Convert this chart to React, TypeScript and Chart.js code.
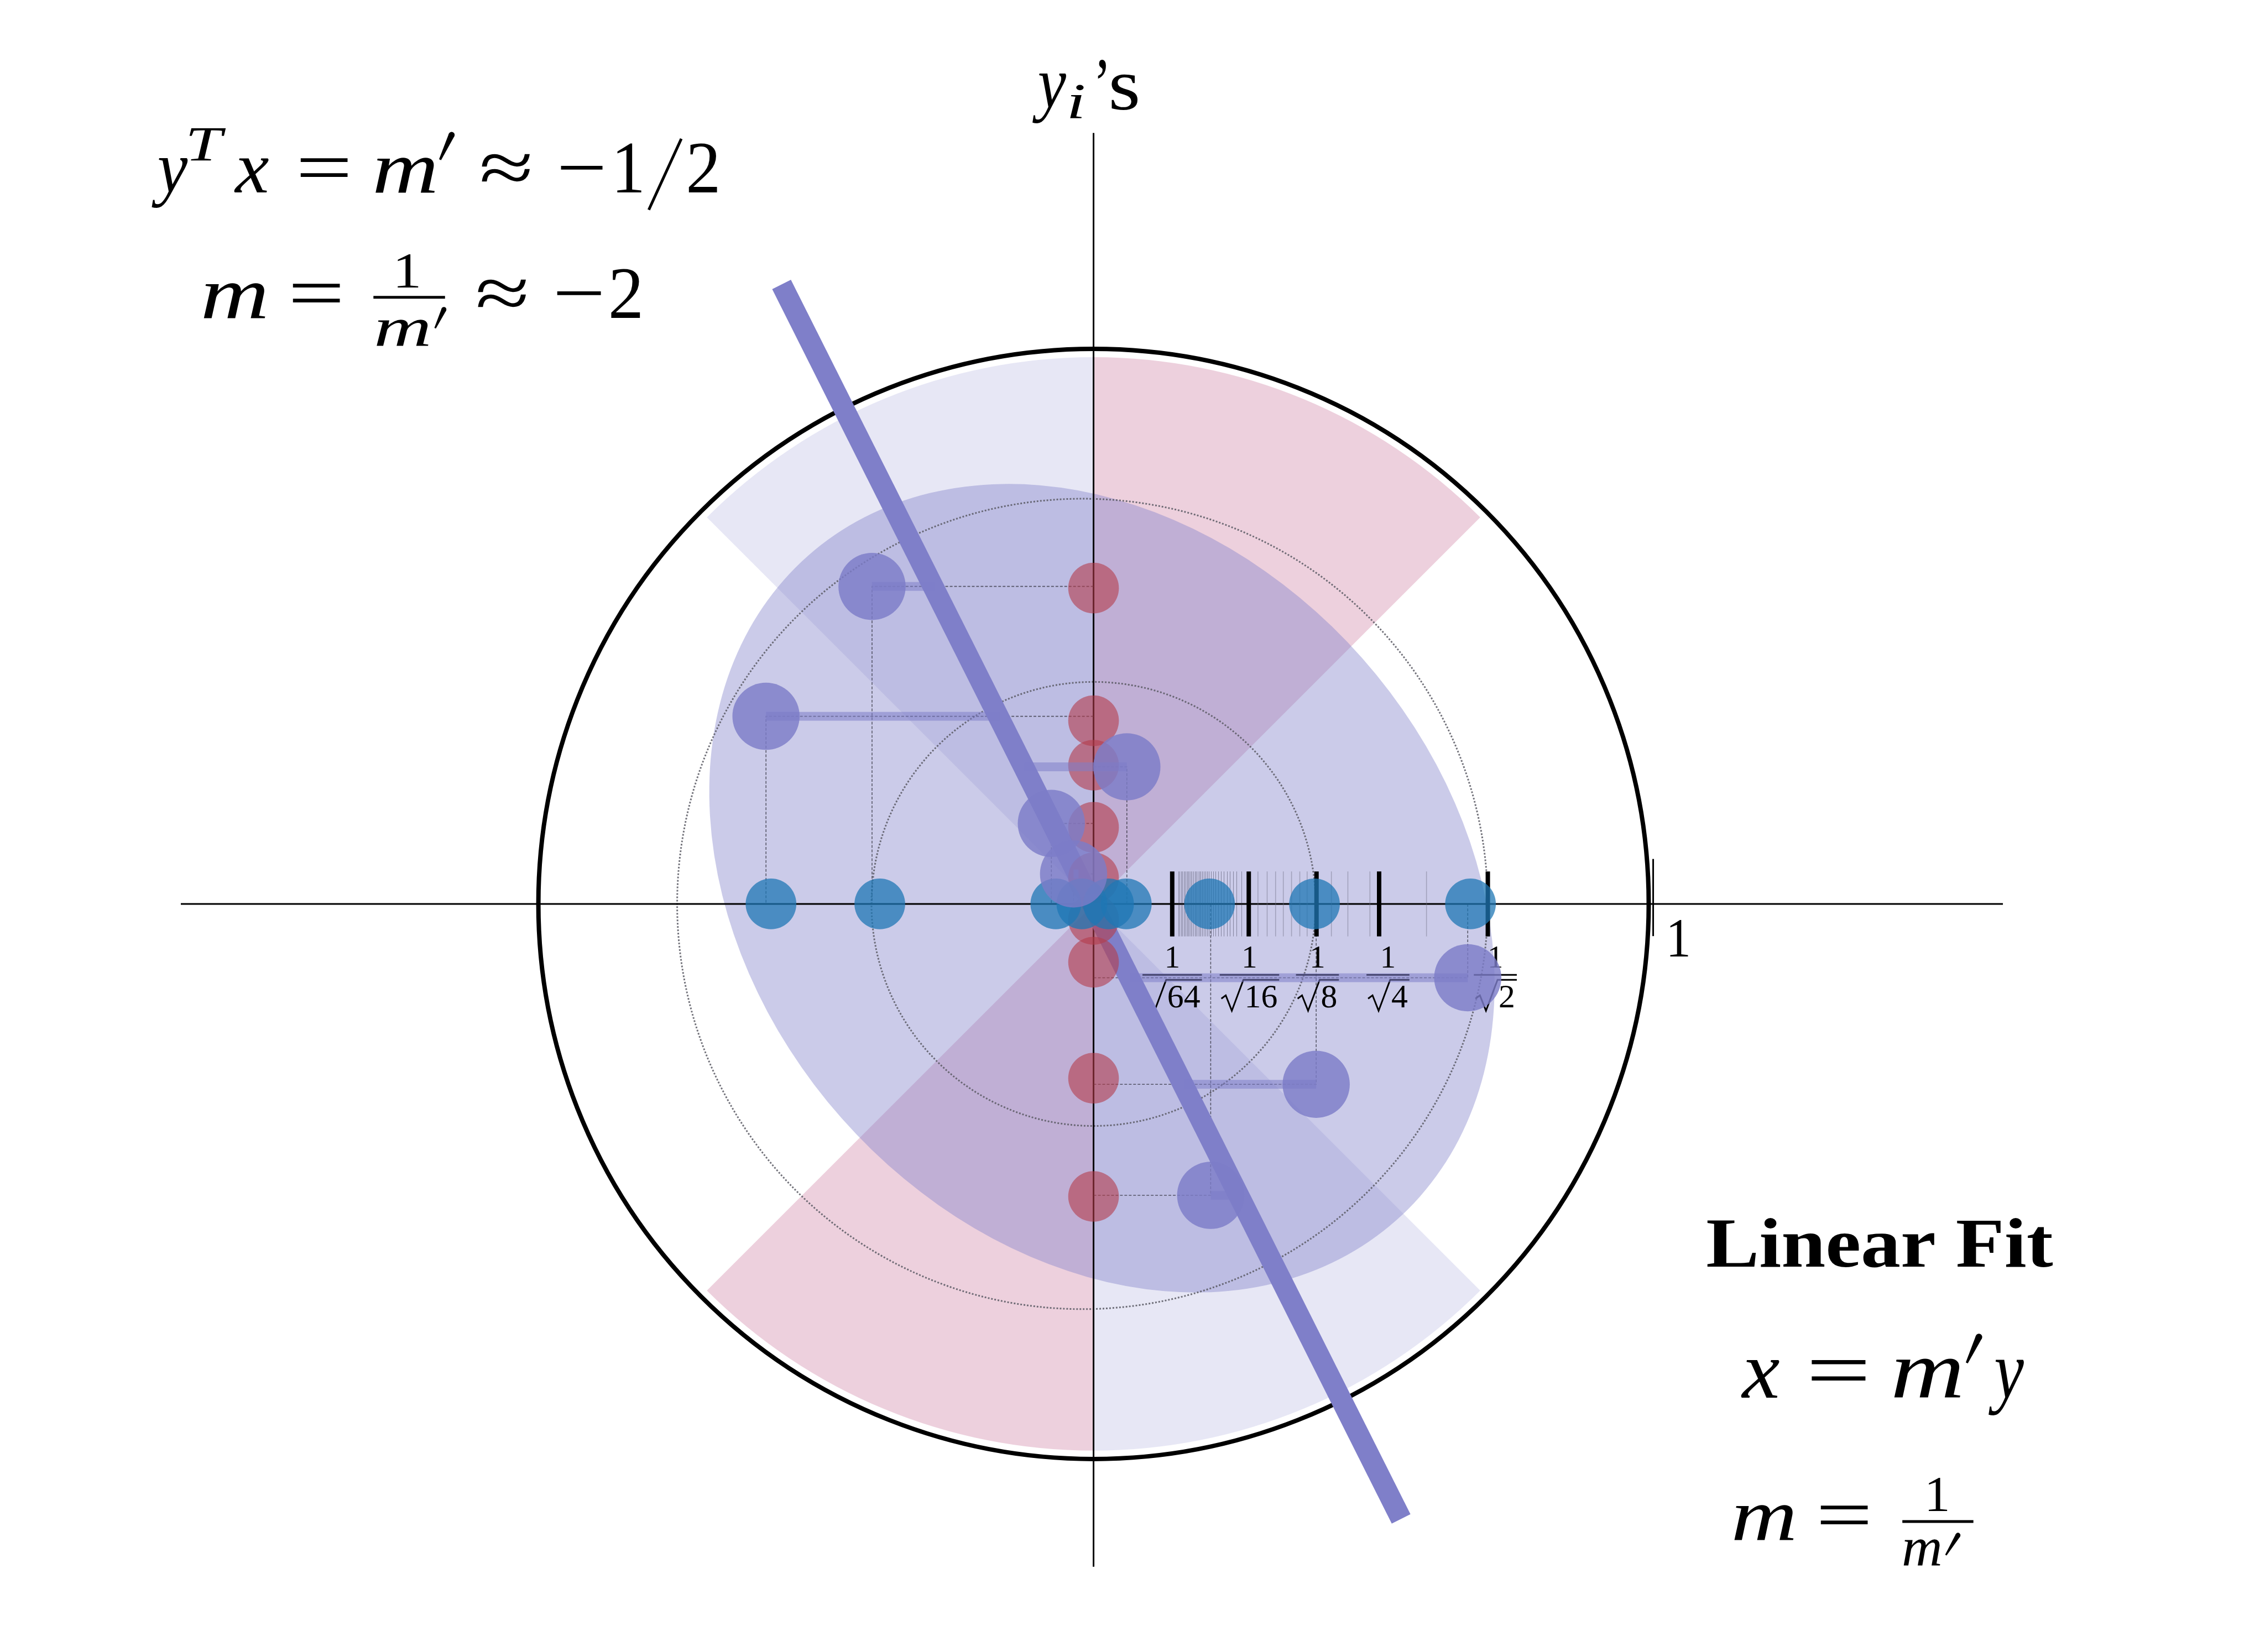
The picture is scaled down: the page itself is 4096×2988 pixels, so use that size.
import React, { useEffect, useRef } from 'react';
import { Chart, registerables } from 'chart.js';

Chart.register(...registerables);

const CANVAS_W = 4096;
const CANVAS_H = 2988;
const S = 0.996;
const ORIGIN_X = 1985.5;
const ORIGIN_Y = 1641.5;
const UNIT = 1008;

// ---------------- data ----------------
const xProjections = [-0.581, -0.385, -0.068, -0.021, 0.027, 0.059, 0.209, 0.398, 0.679];
const yProjections = [0.569, 0.33, 0.25, 0.138, 0.047, -0.028, -0.105, -0.314, -0.527];
const pointX = [-0.399, -0.59, 0.06, -0.076, -0.036, 0.674, 0.401, 0.211];
const pointY = [0.572, 0.338, 0.247, 0.145, 0.054, -0.133, -0.325, -0.525];
const fitLineX = [-0.562, 0.554];
const fitLineY = [1.116, -1.108];
const majorTicks = [0.1417, 0.2796, 0.4016, 0.5144, 0.7102];
const tickLabelPos = [0.1417, 0.2808, 0.4033, 0.5303, 0.7237];
const tickLabelDen = ['64', '16', '8', '4', '2'];
const fineTicks = [0.1526, 0.1553, 0.1579, 0.1602, 0.1625, 0.1649, 0.1675, 0.1698, 0.1721, 0.1748, 0.1771,
  0.1798, 0.1823, 0.185, 0.1877, 0.1903, 0.193, 0.1956, 0.1986, 0.2016, 0.2046, 0.2081, 0.2118, 0.2155,
  0.2194, 0.2244, 0.2294, 0.2349, 0.2403, 0.2458, 0.2515, 0.2571, 0.2664];
const lightTicks = [0.2961, 0.3127, 0.3279, 0.3418, 0.3566, 0.3715, 0.3847, 0.4284, 0.4581, 0.4978, 0.5997];
const unitTick = 1.008;
const circleRadius = 1.0;
const wedgeRadius = 0.985;
const pinkWedges = [[45, 90], [225, 270]];
const lavenderWedges = [[90, 135], [270, 315]];
const ellipseCenter = [0.0151, 0.0283];
const ellipseAxes = [0.7994, 0.6258];
const ellipseAngle = -48.5;
const dottedCircles = [[0, 0, 0.4], [-0.02, 0, 0.73]];
const xAxisRange = [-1.644, 1.638];
const yAxisRange = [-1.194, 1.389];

// ---------------- colours ----------------
const LINE_COLOR = 'rgb(127,127,201)';
const PURPLE = 'rgba(125,125,200,0.82)';
const BAR_COLOR = 'rgba(125,125,200,0.55)';
const BLUE = 'rgba(31,119,180,0.75)';
const RED = 'rgba(180,60,75,0.6)';
const ELLIPSE_COLOR = 'rgba(125,125,200,0.4)';
const LAV_WEDGE = 'rgba(125,125,200,0.19)';
const PINK_WEDGE = 'rgba(190,80,130,0.27)';
const FONT = '"Liberation Serif", "Times New Roman", serif';

const xMin = -(ORIGIN_X * S) / (UNIT * S);
const xMax = (CANVAS_W - ORIGIN_X * S) / (UNIT * S);
const yMax = (ORIGIN_Y * S) / (UNIT * S);
const yMin = -(CANVAS_H - ORIGIN_Y * S) / (UNIT * S);

function fitText(ctx: CanvasRenderingContext2D, s: string, l: number, r: number, base: number, size: number, style = '') {
  ctx.save();
  ctx.font = `${style.includes('i') ? 'italic ' : ''}${style.includes('b') ? 'bold ' : ''}${size * S}px ${FONT}`;
  ctx.textAlign = 'left';
  ctx.textBaseline = 'alphabetic';
  const m = ctx.measureText(s);
  const ink = m.actualBoundingBoxLeft + m.actualBoundingBoxRight;
  const sx = ink > 0 ? ((r - l) * S) / ink : 1;
  ctx.translate(l * S, base * S);
  ctx.scale(sx, 1);
  ctx.fillStyle = '#000';
  ctx.fillText(s, m.actualBoundingBoxLeft, 0);
  ctx.restore();
}

function prime(ctx: CanvasRenderingContext2D, xt: number, yt: number, xb: number, yb: number, wt: number, wb: number) {
  const dx = xb - xt, dy = yb - yt;
  const len = Math.hypot(dx, dy);
  const nx = -dy / len, ny = dx / len;
  ctx.save();
  ctx.beginPath();
  ctx.moveTo((xt + nx * wt / 2) * S, (yt + ny * wt / 2) * S);
  ctx.lineTo((xb + nx * wb / 2) * S, (yb + ny * wb / 2) * S);
  ctx.lineTo((xb - nx * wb / 2) * S, (yb - ny * wb / 2) * S);
  ctx.lineTo((xt - nx * wt / 2) * S, (yt - ny * wt / 2) * S);
  ctx.closePath();
  ctx.fillStyle = '#000';
  ctx.fill();
  ctx.beginPath();
  ctx.arc(xt * S, yt * S, (wt / 2) * S, 0, Math.PI * 2);
  ctx.fill();
  ctx.restore();
}

function hline(ctx: CanvasRenderingContext2D, x0: number, x1: number, y: number, w: number) {
  ctx.save();
  ctx.strokeStyle = '#000';
  ctx.lineWidth = w * S;
  ctx.beginPath();
  ctx.moveTo(x0 * S, y * S);
  ctx.lineTo(x1 * S, y * S);
  ctx.stroke();
  ctx.restore();
}

function seg(ctx: CanvasRenderingContext2D, x0: number, y0: number, x1: number, y1: number, w: number) {
  ctx.save();
  ctx.strokeStyle = '#000';
  ctx.lineWidth = w * S;
  ctx.beginPath();
  ctx.moveTo(x0 * S, y0 * S);
  ctx.lineTo(x1 * S, y1 * S);
  ctx.stroke();
  ctx.restore();
}

const backgroundPlugin = {
  id: 'background',
  beforeDatasetsDraw(chart: any) {
    const { ctx } = chart;
    const xs = chart.scales.x, ys = chart.scales.y;
    const px = (v: number) => xs.getPixelForValue(v);
    const py = (v: number) => ys.getPixelForValue(v);
    const u = px(1) - px(0);
    const ox = px(0), oy = py(0);
    ctx.save();

    const wedge = (a0: number, a1: number, color: string) => {
      ctx.beginPath();
      ctx.moveTo(ox, oy);
      ctx.arc(ox, oy, wedgeRadius * u, (-a1 * Math.PI) / 180, (-a0 * Math.PI) / 180);
      ctx.closePath();
      ctx.fillStyle = color;
      ctx.fill();
    };
    pinkWedges.forEach(([a, b]) => wedge(a, b, PINK_WEDGE));
    lavenderWedges.forEach(([a, b]) => wedge(a, b, LAV_WEDGE));

    // ellipse
    ctx.beginPath();
    ctx.ellipse(px(ellipseCenter[0]), py(ellipseCenter[1]), ellipseAxes[0] * u, ellipseAxes[1] * u,
      (-ellipseAngle * Math.PI) / 180, 0, Math.PI * 2);
    ctx.fillStyle = ELLIPSE_COLOR;
    ctx.fill();

    // dotted circles
    ctx.save();
    ctx.strokeStyle = 'rgba(90,90,100,0.85)';
    ctx.lineWidth = 3 * S;
    ctx.setLineDash([3 * S, 3 * S]);
    dottedCircles.forEach(([cx, cy, r]) => {
      ctx.beginPath();
      ctx.arc(px(cx), py(cy), r * u, 0, Math.PI * 2);
      ctx.stroke();
    });
    ctx.restore();

    // big circle
    ctx.beginPath();
    ctx.arc(ox, oy, circleRadius * u, 0, Math.PI * 2);
    ctx.strokeStyle = '#000';
    ctx.lineWidth = 8 * S;
    ctx.stroke();

    // axes
    ctx.lineWidth = 3 * S;
    ctx.beginPath();
    ctx.moveTo(px(xAxisRange[0]), oy);
    ctx.lineTo(px(xAxisRange[1]), oy);
    ctx.moveTo(ox, py(yAxisRange[1]));
    ctx.lineTo(ox, py(yAxisRange[0]));
    ctx.stroke();

    // dashed projection rectangles
    ctx.save();
    ctx.strokeStyle = 'rgba(40,40,50,0.7)';
    ctx.lineWidth = 1.6 * S;
    ctx.setLineDash([5 * S, 3 * S]);
    pointX.forEach((x, i) => {
      const y = pointY[i];
      ctx.beginPath();
      ctx.moveTo(ox, py(y));
      ctx.lineTo(px(x), py(y));
      ctx.lineTo(px(x), oy);
      ctx.stroke();
    });
    ctx.restore();

    // ticks
    const th = 0.0585 * u;
    ctx.save();
    ctx.strokeStyle = 'rgba(40,40,60,0.55)';
    ctx.lineWidth = 0.8;
    fineTicks.forEach((t) => {
      ctx.beginPath();
      ctx.moveTo(Math.round(px(t)) + 0.5, oy - th);
      ctx.lineTo(Math.round(px(t)) + 0.5, oy + th);
      ctx.stroke();
    });
    ctx.strokeStyle = 'rgba(110,110,130,0.45)';
    ctx.lineWidth = 1.6 * S;
    lightTicks.forEach((t) => {
      ctx.beginPath();
      ctx.moveTo(px(t), oy - th);
      ctx.lineTo(px(t), oy + th);
      ctx.stroke();
    });
    ctx.strokeStyle = '#000';
    ctx.lineWidth = 8 * S;
    majorTicks.forEach((t) => {
      ctx.beginPath();
      ctx.moveTo(px(t), oy - th);
      ctx.lineTo(px(t), oy + th);
      ctx.stroke();
    });
    ctx.lineWidth = 3 * S;
    ctx.beginPath();
    ctx.moveTo(px(unitTick), oy - 0.081 * u);
    ctx.lineTo(px(unitTick), oy + 0.058 * u);
    ctx.stroke();
    ctx.restore();

    // tick labels 1/sqrt(n)
    ctx.save();
    ctx.fillStyle = '#000';
    ctx.strokeStyle = '#000';
    tickLabelPos.forEach((t, i) => {
      const c = px(t);
      ctx.font = `${57 * S}px ${FONT}`;
      ctx.textAlign = 'center';
      ctx.textBaseline = 'alphabetic';
      ctx.fillText('1', c, oy + 116 * S);
      ctx.font = `${60 * S}px ${FONT}`;
      const d = tickLabelDen[i];
      const dw = ctx.measureText(d).width;
      const rw = 42 * S;
      const total = rw + dw;
      const start = c - total / 2;
      ctx.lineWidth = 3 * S;
      ctx.beginPath();
      ctx.moveTo(start - 3 * S, oy + 128.8 * S);
      ctx.lineTo(start + total + 3 * S, oy + 128.8 * S);
      ctx.stroke();
      // radical
      ctx.lineJoin = 'miter';
      ctx.beginPath();
      ctx.moveTo(start, oy + 172 * S);
      ctx.lineTo(start + 8 * S, oy + 166 * S);
      ctx.lineTo(start + 19 * S, oy + 194 * S);
      ctx.lineTo(start + rw - 2 * S, oy + 137.8 * S);
      ctx.lineTo(start + total + 3 * S, oy + 137.8 * S);
      ctx.stroke();
      ctx.textAlign = 'left';
      ctx.fillText(d, start + rw, oy + 187.5 * S);
    });
    ctx.restore();

    ctx.restore();
  },
  beforeDatasetDraw(chart: any, args: any) {
    if (args.index !== 0) return;
    const { ctx } = chart;
    const xs = chart.scales.x, ys = chart.scales.y;
    const px = (v: number) => xs.getPixelForValue(v);
    const py = (v: number) => ys.getPixelForValue(v);
    const mPrime = (fitLineX[1] - fitLineX[0]) / (fitLineY[1] - fitLineY[0]);
    ctx.save();
    ctx.fillStyle = BAR_COLOR;
    const h = 16 * S;
    pointX.forEach((x, i) => {
      const y = pointY[i];
      const fx = mPrime * y;
      const a = px(Math.min(x, fx)), b = px(Math.max(x, fx));
      ctx.fillRect(a, py(y) - h / 2, b - a, h);
    });
    ctx.restore();
  },
  afterDatasetsDraw(chart: any) {
    const { ctx } = chart;
    ctx.save();
    // top-left equations
    fitText(ctx, 'y', 275, 341, 349, 135, 'i');
    fitText(ctx, 'T', 343, 411, 291, 90, 'i');
    fitText(ctx, 'x', 425, 488, 349, 135, 'i');
    fitText(ctx, '=', 545, 632, 349, 135);
    fitText(ctx, 'm', 681, 790, 349, 135, 'i');
    prime(ctx, 820, 245, 799, 290, 11, 4);
    fitText(ctx, '\u2248', 874, 962, 349, 135);
    fitText(ctx, '\u2212', 1018, 1095, 349, 135);
    fitText(ctx, '1', 1120, 1165, 349, 135);
    seg(ctx, 1237, 252, 1178, 381, 5);
    fitText(ctx, '2', 1250, 1302, 349, 135);

    fitText(ctx, 'm', 369, 482, 577, 135, 'i');
    fitText(ctx, '=', 531, 618, 577, 135);
    hline(ctx, 678, 808, 540, 5);
    fitText(ctx, '1', 722, 760, 522, 92);
    fitText(ctx, 'm', 683, 778, 628, 100, 'i');
    prime(ctx, 806, 562, 790, 596, 9, 3);
    fitText(ctx, '\u2248', 867, 955, 577, 135);
    fitText(ctx, '\u2212', 1011, 1092, 577, 135);
    fitText(ctx, '2', 1109, 1162, 577, 135);

    // y_i's
    fitText(ctx, 'y', 1874, 1936, 196, 135, 'i');
    fitText(ctx, 'i', 1943, 1968, 215, 92, 'i');
    fitText(ctx, '\u2019', 1993, 2008, 198, 135);
    fitText(ctx, 's', 2018, 2066, 199, 135);

    // unit label
    fitText(ctx, '1', 3032, 3065, 1737, 100);

    // bottom-right block
    fitText(ctx, 'Linear Fit', 3100, 3727, 2300, 128, 'b');
    fitText(ctx, 'x', 3161, 3231, 2538, 148, 'i');
    fitText(ctx, '=', 3289, 3387, 2538, 148);
    fitText(ctx, 'm', 3439, 3560, 2538, 148, 'i');
    prime(ctx, 3593, 2428, 3571, 2475, 12, 4);
    fitText(ctx, 'y', 3610, 3675, 2538, 148, 'i');

    fitText(ctx, 'm', 3148, 3257, 2796, 135, 'i');
    fitText(ctx, '=', 3305, 3392, 2796, 135);
    hline(ctx, 3454, 3583, 2763, 5);
    fitText(ctx, '1', 3502, 3536, 2744, 92);
    fitText(ctx, 'm', 3456, 3523, 2842, 100, 'i');
    prime(ctx, 3555, 2788, 3533, 2824, 9, 3);
    ctx.restore();
  },
};

export default function App() {
  const ref = useRef<HTMLCanvasElement>(null);
  useEffect(() => {
    document.body.style.margin = '0';
    const canvas = ref.current!;
    const chart = new Chart(canvas, {
      type: 'scatter',
      data: {
        datasets: [
          {
            label: 'points',
            data: pointX.map((x, i) => ({ x, y: pointY[i] })),
            pointRadius: 61 * S,
            pointHoverRadius: 61 * S,
            backgroundColor: PURPLE,
            borderWidth: 0,
            order: 1,
          },
          {
            label: 'x projections',
            data: xProjections.map((x) => ({ x, y: 0 })),
            pointRadius: 46 * S,
            pointHoverRadius: 46 * S,
            backgroundColor: BLUE,
            borderWidth: 0,
            order: 2,
          },
          {
            label: 'y projections',
            data: yProjections.map((y) => ({ x: 0, y })),
            pointRadius: 46 * S,
            pointHoverRadius: 46 * S,
            backgroundColor: RED,
            borderWidth: 0,
            order: 3,
          },
          {
            label: 'fit',
            data: fitLineX.map((x, i) => ({ x, y: fitLineY[i] })),
            showLine: true,
            borderColor: LINE_COLOR,
            borderWidth: 38 * S,
            borderCapStyle: 'butt',
            pointRadius: 0,
            pointHoverRadius: 0,
            order: 4,
          } as any,
        ],
      },
      options: {
        responsive: false,
        devicePixelRatio: 1,
        animation: false,
        events: [],
        layout: { padding: 0, autoPadding: false },
        plugins: { legend: { display: false }, tooltip: { enabled: false } },
        scales: {
          x: { type: 'linear', min: xMin, max: xMax, display: false },
          y: { type: 'linear', min: yMin, max: yMax, display: false },
        },
      },
      plugins: [backgroundPlugin],
    });
    return () => chart.destroy();
  }, []);
  return (
    <div style={{ position: 'fixed', left: 0, top: 0, width: CANVAS_W, height: CANVAS_H, background: '#fff' }}>
      <canvas ref={ref} width={CANVAS_W} height={CANVAS_H} style={{ width: CANVAS_W, height: CANVAS_H, display: 'block' }} />
    </div>
  );
}
